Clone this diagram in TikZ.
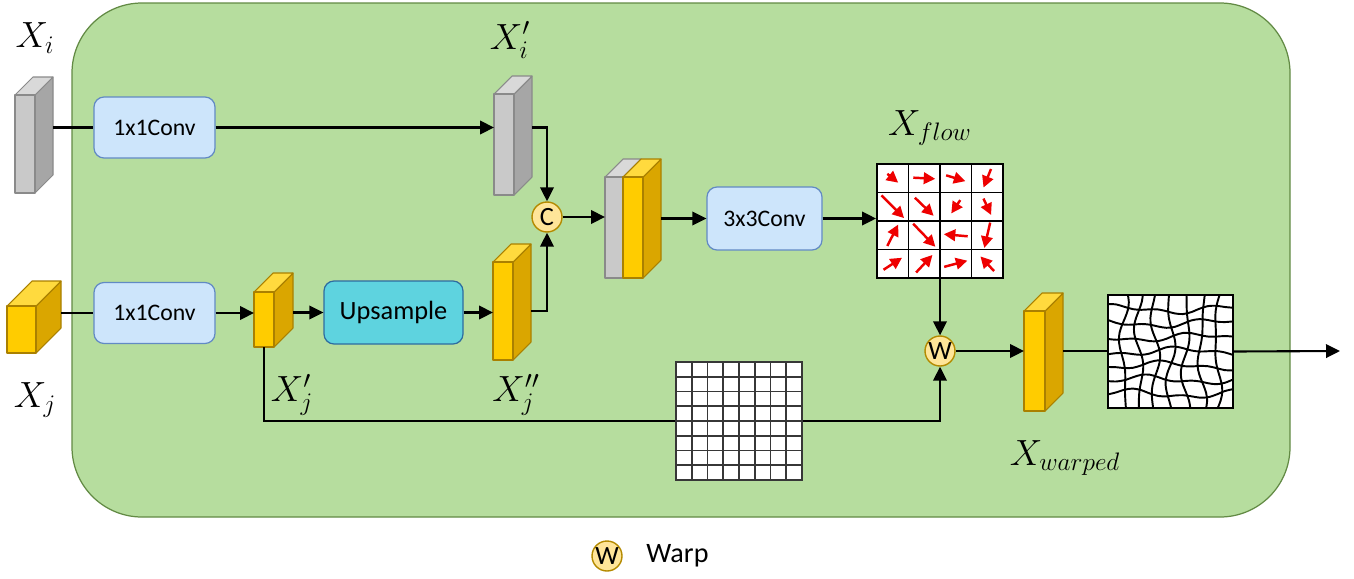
\documentclass[tikz,border=0pt]{standalone}
\usepackage{fontspec}
\setmainfont{Carlito}
\usetikzlibrary{positioning}
\usetikzlibrary{calc}
\usetikzlibrary{arrows.meta}

\definecolor{bggreen}{RGB}{182,221,158}
\definecolor{bgedge}{RGB}{98,138,68}
\definecolor{convfill}{RGB}{205,229,251}
\definecolor{convedge}{RGB}{98,138,196}
\definecolor{upfill}{RGB}{94,211,223}
\definecolor{upedge}{RGB}{46,108,160}
\definecolor{goldfront}{RGB}{255,204,0}
\definecolor{goldside}{RGB}{218,166,0}
\definecolor{goldtop}{RGB}{255,218,62}
\definecolor{goldedge}{RGB}{170,128,0}
\definecolor{grayfront}{RGB}{201,201,201}
\definecolor{grayside}{RGB}{166,166,166}
\definecolor{graytop}{RGB}{217,217,217}
\definecolor{grayedge}{RGB}{138,138,138}
\definecolor{opfill}{RGB}{255,229,153}
\definecolor{opedge}{RGB}{180,138,0}
\definecolor{flowred}{RGB}{238,0,0}
\definecolor{gridgray}{RGB}{55,55,55}

\newcommand{\pxu}{0.02cm}
% name, left x, top y, width, height, depth, palette
\newcommand{\featblock}[7]{%
  \filldraw[blockedge=#7, fill=#7side] (#2+#4,#3) -- ++(#6,-#6) -- ++(0,#5) -- ++(-#6,#6) -- cycle;
  \filldraw[blockedge=#7, fill=#7top] (#2,#3) -- ++(#6,-#6) -- ++(#4,0) -- ++(-#6,#6) -- cycle;
  \node[blockedge=#7, fill=#7front, anchor=north west,
        minimum width=#4*\pxu, minimum height=#5*\pxu] (#1) at (#2,#3) {};
  \coordinate (#1-r) at ($(#1.east)+(#6,0)$);
}

\begin{document}
\begin{tikzpicture}[
    x=\pxu, y=-\pxu,
    blockedge/.style={draw=#1edge, line width=0.6pt, line join=round, inner sep=0pt, outer sep=0pt},
    conv/.style={rectangle, rounded corners=0.2cm, draw=convedge, fill=convfill, line width=0.7pt,
                 minimum width=121*\pxu, minimum height=61*\pxu, font=\fontsize{13.5}{16}\selectfont},
    upbox/.style={conv, draw=upedge, fill=upfill, minimum width=139*\pxu, minimum height=63*\pxu,
                 font=\fontsize{15}{18}\selectfont},
    op/.style={circle, draw=opedge, fill=opfill, line width=0.8pt, minimum size=30*\pxu, inner sep=0pt,
               font=\fontsize{15}{18}\selectfont},
    gridbox/.style={rectangle, draw=black, fill=white, line width=1.1pt, inner sep=0pt},
    lbl/.style={font=\fontsize{20.74}{24}\selectfont},
    conn/.style={line width=1.2pt},
    >={Triangle[length=0.28cm, width=0.27cm]},
    flowarr/.style={draw=flowred, line width=1.4pt, -{Triangle[length=0.23cm, width=0.23cm]}},
    wavy/.style={line width=1.1pt, line join=round}
]
    \useasboundingbox (0,0) rectangle (1354,578);

    \draw[fill=bggreen, draw=bgedge, line width=0.7pt, rounded corners=1.4cm] (72,3) rectangle (1290,517);

    \featblock{xi}{15}{95}{20}{98}{18}{gray}
    \featblock{xj}{7}{306}{29}{47}{25}{gold}
    \featblock{xip}{494}{94}{20}{101}{18}{gray}
    \featblock{xjp}{254}{292}{20}{55}{19}{gold}
    \featblock{xjpp}{493}{262}{20}{98}{18}{gold}
    \featblock{catg}{605}{177}{18}{101}{18}{gray}
    \featblock{caty}{623}{177}{20}{101}{18}{gold}
    \featblock{xw}{1024}{311}{21}{100}{18}{gold}

    \node[conv] (conva) at (154.5,127.5) {1x1Conv};
    \node[conv] (convb) at (154.5,313) {1x1Conv};
    \node[upbox] (up) at (393.5,312.5) {Upsample};
    \node[conv, minimum width=115*\pxu, minimum height=63*\pxu] (conv3) at (764.5,218.5) {3x3Conv};

    \node[op] (cc) at (547,217) {C};
    \node[op] (ww) at (940,351) {W};

    % flow field
    \node[gridbox, minimum width=126*\pxu, minimum height=114*\pxu] (flow) at (940,221) {};
    \foreach \k in {1,2,3} {
        \draw[line width=1.1pt] (877+31.5*\k,164) -- (877+31.5*\k,278);
        \draw[line width=1.1pt] (877,164+28.5*\k) -- (1003,164+28.5*\k);
    }
    \foreach \c/\r/\a/\l in {0/0/-39/14, 1/0/-3/22, 2/0/-17/20, 3/0/-112/20,
                             0/1/-45/32, 1/1/-44/26, 2/1/-124/16, 3/1/-65/18,
                             0/2/63/24, 1/2/-46/32, 2/2/175/24, 3/2/-103/26,
                             0/3/33/22, 1/3/47/24, 2/3/15/24, 3/3/133/20} {
        \draw[flowarr] (892.75+31.5*\c,178.25+28.5*\r) ++({-\a-180}:{\l/2}) -- ++({-\a}:\l);
    }

    % regular sampling grid
    \node[gridbox, draw=gridgray, minimum width=126*\pxu, minimum height=118*\pxu] (base) at (739,421) {};
    \foreach \k in {1,...,7} {
        \draw[gridgray, line width=1.1pt] (676+15.75*\k,362) -- (676+15.75*\k,480);
        \draw[gridgray, line width=1.1pt] (676,362+14.75*\k) -- (802,362+14.75*\k);
    }

    % warped grid
    \node[gridbox, line width=0.9pt, minimum width=125*\pxu, minimum height=113*\pxu] (warp) at (1170.5,351.5) {};
    \begin{scope}
        \clip (1108,295) rectangle (1233,408);
        \foreach \i in {1,...,7} {
            \draw[wavy] plot[smooth, domain=1108:1233, samples=16]
                (\x, {295+14.125*\i + 3.4*sin(3.1*\x + 53*\i) + 2*sin(7.3*\x + 91*\i)});
            \draw[wavy] plot[smooth, domain=295:408, samples=16, variable=\t]
                ({1108+15.625*\i + 3.4*sin(3.7*\t + 67*\i) + 2*sin(6.1*\t + 29*\i)}, \t);
        }
    \end{scope}

    \coordinate (outp) at (1340,351);

    \draw[conn] (xi-r |- conva.west) -- (conva.west);
    \draw[conn, ->] (conva.east) -- (conva.east -| xip.west);
    \draw[conn, ->] (xip-r |- conva.east) -| (cc.north);
    \draw[conn] (xj-r |- convb.west) -- (convb.west);
    \draw[conn, ->] (convb.east) -- (convb.east -| xjp.west);
    \draw[conn, ->] (xjp-r |- up.west) -- (up.west);
    \draw[conn, ->] (up.east) -- (up.east -| xjpp.west);
    \draw[conn, ->] (xjpp-r) -| (cc.south);
    \draw[conn, ->] (cc.east) -- (cc.east -| catg.west);
    \draw[conn, ->] (caty-r |- conv3.west) -- (conv3.west);
    \draw[conn, ->] (conv3.east) -- (conv3.east -| flow.west);
    \draw[conn, ->] (flow.south) -- (ww.north);
    \draw[conn, ->] (ww.east) -- (ww.east -| xw.west);
    \draw[conn] (xw-r |- ww.east) -- (ww.east -| warp.west);
    \draw[conn, ->] (warp.east) -- (outp);
    \draw[conn] (xjp.south) |- (base.west);
    \draw[conn, ->] (base.east) -| (ww.south);

    \node[lbl] (lxi) at (35,38) {$X_i$};
    \node[lbl] (lxip) at (510,40) {$X_i'$};
    \node[lbl] (lxj) at (35,400) {$X_j$};
    \node[lbl] (lxjp) at (292,395) {$X_j'$};
    \node[lbl] (lxjpp) at (516,395) {$X_j''$};
    \node[lbl] (lflow) at (930,128) {$X_{flow}$};
    \node[lbl] (lwarp) at (1065,458) {$X_{warped}$};

    \node[op] (legw) at (607,556) {W};
    \node[right=0.35cm of legw, font=\fontsize{16}{19}\selectfont] (legtxt) {Warp};
\end{tikzpicture}
\end{document}
